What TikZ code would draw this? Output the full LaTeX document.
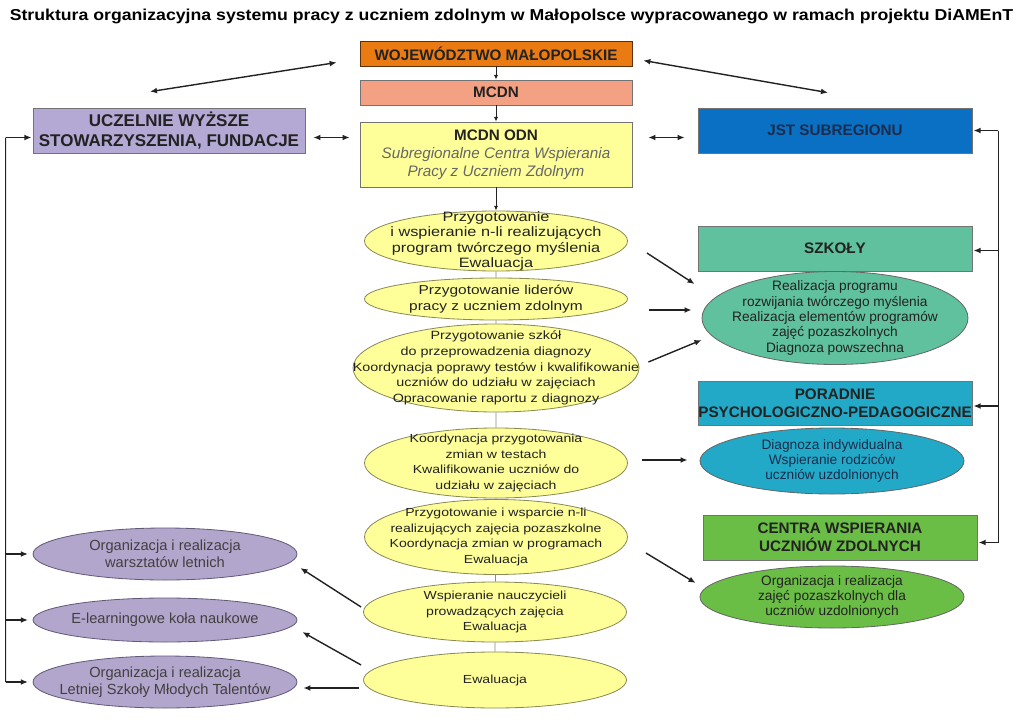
\documentclass[tikz,border=0pt]{standalone}
\usepackage{graphicx}
\usepackage{fontspec}
\setmainfont{Liberation Sans}
\newfontfamily\widesans{Liberation Sans}[FakeStretch=1.2]
\usetikzlibrary{positioning,calc,arrows.meta,shapes.geometric}

\definecolor{wojC}{HTML}{E97B12}
\definecolor{mcdnC}{HTML}{F4A083}
\definecolor{odnC}{HTML}{FFFF99}
\definecolor{yelD}{HTML}{8A8A55}
\definecolor{uczC}{HTML}{B4A8D4}
\definecolor{fioC}{HTML}{B3A6CC}
\definecolor{fioD}{HTML}{625A78}
\definecolor{jstC}{HTML}{0A70C4}
\definecolor{szkC}{HTML}{60C19E}
\definecolor{porC}{HTML}{22A9C7}
\definecolor{cenC}{HTML}{6BBE45}
\definecolor{ink}{HTML}{222222}
\definecolor{navy}{HTML}{1C2C4C}

\newcommand{\subline}[1]{{\mdseries\itshape\color{black!60}#1}}

\begin{document}
\begin{tikzpicture}[x=0.03cm, y=-0.03cm,
    box/.style={draw=black!55, line width=0.6pt, inner sep=0pt, minimum width=8.16cm,
        minimum height=1.35cm, align=center, text=ink, font=\fontsize{13}{15.5}\selectfont\bfseries},
    yel/.style={ellipse, fill=odnC, draw=yelD, line width=0.7pt, inner sep=0pt, minimum width=7.89cm},
    fio/.style={ellipse, fill=fioC, draw=fioD, line width=0.7pt, inner sep=0pt, minimum width=7.92cm},
    rov/.style={ellipse, draw=black!60, line width=0.7pt, inner sep=0pt, minimum width=7.92cm},
    ytxt/.style={align=center, text=ink, font=\widesans\fontsize{10}{13.3}\selectfont},
    rtxt/.style={align=center, text=ink, font=\fontsize{11.7}{13.1}\selectfont},
    ltxt/.style={align=center, text=black!75, font=\fontsize{12.5}{14.8}\selectfont},
    spine/.style={-{Latex[length=4pt,width=3.5pt]}, line width=0.8pt, draw=ink},
    link/.style={line width=0.6pt, draw=black!45},
    arr/.style={-{Latex[length=6pt,width=5pt]}, line width=1.2pt, draw=ink},
    dbl/.style={{Latex[length=6pt,width=5pt]}-{Latex[length=6pt,width=5pt]}, line width=1.2pt, draw=ink},
    bus/.style={line width=0.9pt, draw=ink}]

    \useasboundingbox (0,0) rectangle (1023,724);

    % title
    \node (title) at (511.5,16) {\resizebox{30.1cm}{\height}{\fontsize{13.5}{15}\selectfont\bfseries
        Struktura organizacyjna systemu pracy z uczniem zdolnym w Małopolsce wypracowanego w ramach projektu DiAMEnT}};

    % central column
    \node[box, fill=wojC, draw=black!60!wojC, minimum height=0.75cm] (woj) at (496,53.5) {WOJEWÓDZTWO MAŁOPOLSKIE};
    \node[box, fill=mcdnC, minimum height=0.75cm] (mcdn) at (496,92.5) {MCDN};
    \node[box, fill=odnC, minimum height=1.95cm] (odn) at (496,154.5)
        {MCDN ODN\\\subline{Subregionalne Centra Wspierania}\\\subline{Pracy z Uczniem Zdolnym}};

    \node[yel, minimum height=1.8cm, label={[ytxt, font=\widesans\fontsize{11.6}{13.3}\selectfont]center:{Przygotowanie\\i wspieranie n-li realizujących\\program twórczego myślenia\\Ewaluacja}}] (e1) at (496,241) {};
    \node[yel, minimum height=1.26cm, label={[ytxt, font=\widesans\fontsize{11}{13.3}\selectfont]center:{Przygotowanie liderów\\pracy z uczniem zdolnym}}] (e2) at (496,299) {};
    \node[yel, minimum width=8.58cm, minimum height=2.64cm, label={[ytxt, font=\widesans\fontsize{10.2}{13.5}\selectfont]center:{Przygotowanie szkół\\do przeprowadzenia diagnozy\\Koordynacja poprawy testów i kwalifikowanie\\uczniów do udziału w zajęciach\\Opracowanie raportu z diagnozy}}] (e3) at (496,368) {};
    \node[yel, minimum height=2.1cm, label={[ytxt]center:{Koordynacja przygotowania\\zmian w testach\\Kwalifikowanie uczniów do\\udziału w zajęciach}}] (e4) at (496,463) {};
    \node[yel, minimum height=2.25cm, label={[ytxt]center:{Przygotowanie i wsparcie n-li\\realizujących zajęcia pozaszkolne\\Koordynacja zmian w programach\\Ewaluacja}}] (e5) at (496,537) {};
    \node[yel, minimum height=1.8cm, label={[ytxt]center:{Wspieranie nauczycieli\\prowadzących zajęcia\\Ewaluacja}}] (e6) at (495,612) {};
    \node[yel, minimum height=1.68cm, label={[ytxt]center:{Ewaluacja}}] (e7) at (495,680) {};

    % left side
    \node[box, fill=uczC, font=\fontsize{14.5}{16.5}\selectfont\bfseries] (ucz) at (169,130.5) {UCZELNIE WYŻSZE\\STOWARZYSZENIA, FUNDACJE};
    \node[fio, minimum height=1.56cm, label={[ltxt]center:{Organizacja i realizacja\\warsztatów letnich}}] (l1) at (165,554) {};
    \node[fio, minimum height=1.32cm, label={[ltxt]center:{E-learningowe koła naukowe}}] (l2) at (165,620) {};
    \node[fio, minimum height=1.56cm, label={[ltxt]center:{Organizacja i realizacja\\Letniej Szkoły Młodych Talentów}}] (l3) at (165,682) {};

    % right side
    \node[box, fill=jstC, minimum width=8.22cm, text=navy] (jst) at (835,130.5) {JST SUBREGIONU};
    \node[box, fill=szkC, minimum width=8.22cm] (szk) at (835,248.5) {SZKOŁY};
    \node[rov, fill=szkC, minimum width=7.98cm, minimum height=2.79cm, label={[rtxt]center:{Realizacja programu\\rozwijania twórczego myślenia\\Realizacja elementów programów\\zajęć pozaszkolnych\\Diagnoza powszechna}}] (se) at (835,318) {};
    \node[box, fill=porC, minimum width=8.22cm, minimum height=1.32cm] (por) at (835,403) {PORADNIE\\PSYCHOLOGICZNO-PEDAGOGICZNE};
    \node[rov, fill=porC, minimum height=1.98cm, label={[rtxt, text=navy]center:{Diagnoza indywidualna\\Wspieranie rodziców\\uczniów uzdolnionych}}] (pe) at (832,461) {};
    \node[box, fill=cenC, minimum width=8.22cm] (cen) at (840,537.5) {CENTRA WSPIERANIA\\UCZNIÓW ZDOLNYCH};
    \node[rov, fill=cenC, minimum height=1.86cm, label={[rtxt]center:{Organizacja i realizacja\\zajęć pozaszkolnych dla\\uczniów uzdolnionych}}] (ce) at (832,597) {};

    % central links
    \draw[spine] (woj) -- (mcdn);
    \draw[spine] (mcdn) -- (odn);
    \draw[spine] (odn) -- (e1);
    \draw[link] (e1) -- (e2) (e2) -- (e3) (e3) -- (e4) (e4) -- (e5) (e5) -- (e6) (e6) -- (e7);

    % double arrows at the top
    \draw[dbl] ($(woj.west)+(-23,9)$) -- ($(ucz.north)+(-19,-16)$);
    \draw[dbl] ($(woj.east)+(11,7)$) -- ($(jst.north)+(-7,-15)$);
    \draw[dbl] ($(ucz.east)+(8,7)$) -- ($(odn.west)+(-10,-17)$);
    \draw[dbl] ($(odn.east)+(16,-17)$) -- ($(jst.west)+(-13,7)$);

    % tasks to the right
    \draw[arr] ($(e1.east)+(19,12)$) -- ($(se.west)+(-7,-34)$);
    \draw[arr] ($(e2.east)+(21,11)$) -- ($(se.west)+(-10,-8)$);
    \draw[arr] ($(e3.east)+(9,-6)$) -- ($(se.west)+(0,22)$);
    \draw[arr] ($(e4.east)+(14,-3)$) -- ($(pe.west)+(-12,-1)$);
    \draw[arr] ($(e5.east)+(18,16)$) -- ($(ce.west)+(-4,-14)$);

    % tasks to the left
    \draw[arr] ($(e6.west)+(-2,-5)$) -- ($(l1.east)+(3,14)$);
    \draw[arr] ($(e7.west)+(-2,-15)$) -- ($(l2.east)+(5,12)$);
    \draw[arr] ($(e7.west)+(-4,8)$) -- ($(l3.east)+(6,6)$);

    % right bus
    \draw[bus] ($(jst.east)+(26,0)$) -- ($(cen.east)+(21,5)$);
    \draw[arr, shorten >=1pt] ($(jst.east)+(26,0)$) -- (jst.east);
    \draw[arr, shorten >=1pt] ($(szk.east)+(26,2)$) -- ($(szk.east)+(0,2)$);
    \draw[arr, shorten >=1pt] ($(por.east)+(26,3)$) -- ($(por.east)+(0,3)$);
    \draw[arr, shorten >=1pt] ($(cen.east)+(21,5)$) -- ($(cen.east)+(0,5)$);

    % left bus
    \draw[bus] ($(ucz.west)+(-27,7)$) -- ($(l3.west)+(-27,0)$);
    \draw[arr, shorten >=1pt] ($(ucz.west)+(-27,7)$) -- ($(ucz.west)+(0,7)$);
    \draw[arr, shorten >=4pt] ($(l1.west)+(-27,0)$) -- (l1.west);
    \draw[arr, shorten >=4pt] ($(l2.west)+(-27,0)$) -- (l2.west);
    \draw[arr, shorten >=4pt] ($(l3.west)+(-27,0)$) -- (l3.west);
\end{tikzpicture}
\end{document}
